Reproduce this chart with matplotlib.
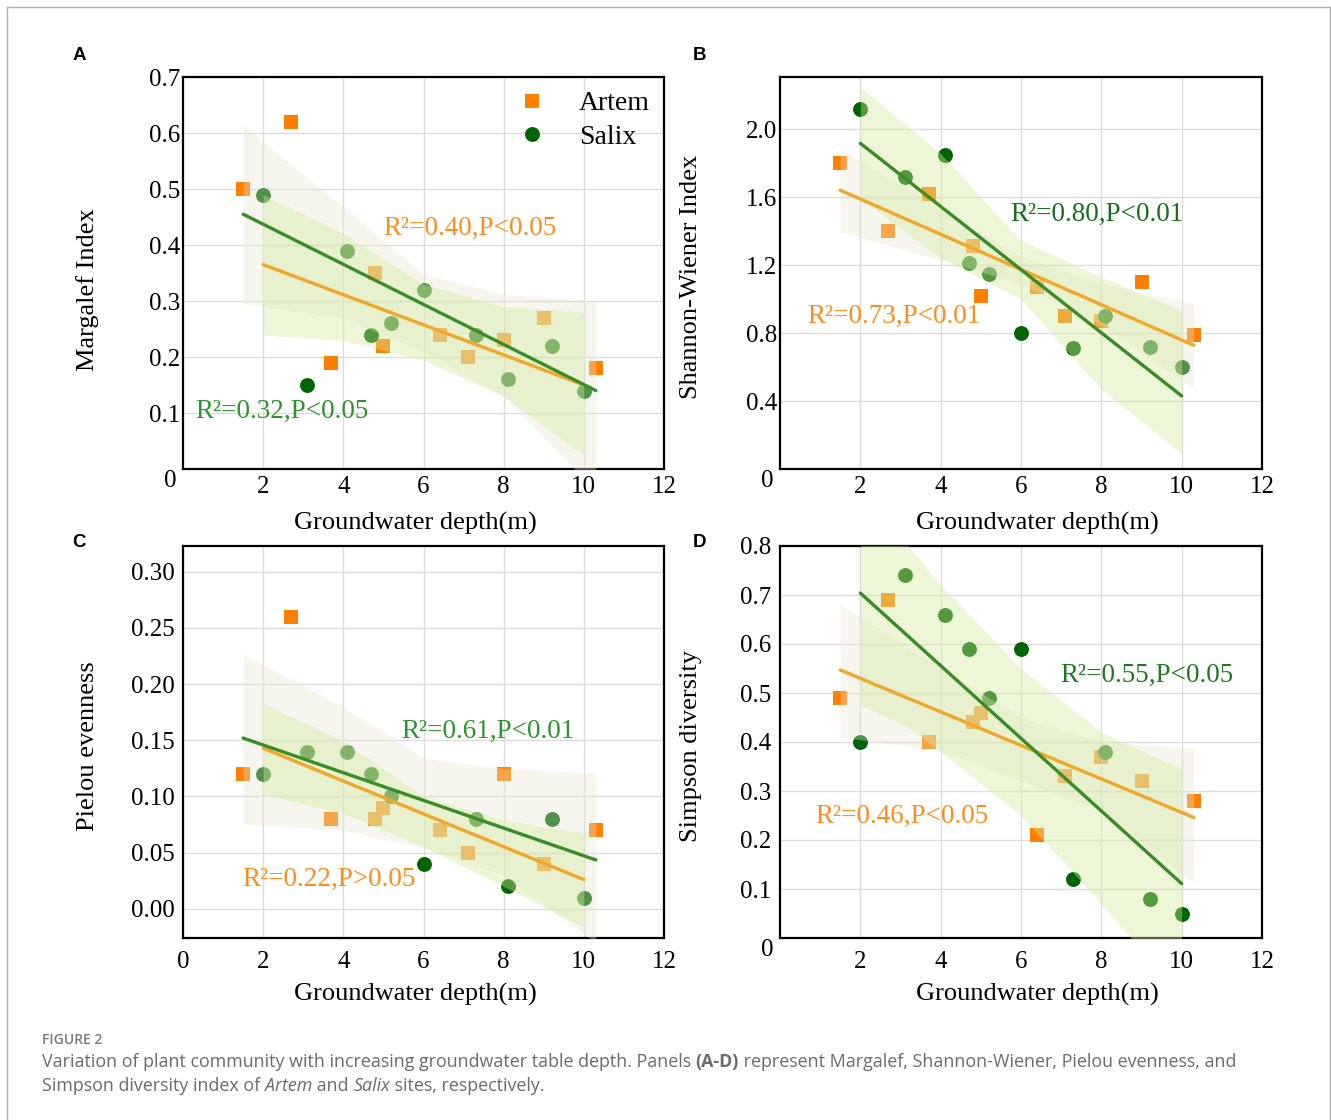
import matplotlib
matplotlib.use('Agg')
import matplotlib.pyplot as plt
from matplotlib.lines import Line2D

plt.rcParams['font.family'] = 'Liberation Serif'

# groundwater depth of the sampling sites (m)
depth_artem = [1.5, 2.7, 3.7, 4.8, 5.0, 6.4, 7.1, 8.0, 9.0, 10.3]
depth_salix = [2.0, 3.1, 4.1, 4.7, 5.2, 6.0, 7.3, 8.1, 9.2, 10.0]

# diversity indices
margalef_artem = [0.50, 0.62, 0.19, 0.35, 0.22, 0.24, 0.20, 0.23, 0.27, 0.18]
margalef_salix = [0.49, 0.15, 0.39, 0.24, 0.26, 0.32, 0.24, 0.16, 0.22, 0.14]
shannon_artem = [1.80, 1.40, 1.62, 1.31, 1.02, 1.07, 0.90, 0.87, 1.10, 0.79]
shannon_salix = [2.12, 1.72, 1.85, 1.21, 1.15, 0.80, 0.71, 0.90, 0.72, 0.60]
pielou_artem = [0.12, 0.26, 0.08, 0.08, 0.09, 0.07, 0.05, 0.12, 0.04, 0.07]
pielou_salix = [0.12, 0.14, 0.14, 0.12, 0.10, 0.04, 0.08, 0.02, 0.08, 0.01]
simpson_artem = [0.49, 0.69, 0.40, 0.44, 0.46, 0.21, 0.33, 0.37, 0.32, 0.28]
simpson_salix = [0.40, 0.74, 0.66, 0.59, 0.49, 0.59, 0.12, 0.38, 0.08, 0.05]

# fitted lines (end points)
fit_green_x = [[1.5, 10.3], [2.0, 10.0], [1.5, 10.3], [2.0, 10.0]]
fit_green_y = [[0.455, 0.14], [1.916, 0.43], [0.152, 0.0435], [0.704, 0.111]]
fit_orange_x = [[2.0, 10.0], [1.5, 10.3], [2.0, 10.0], [1.5, 10.3]]
fit_orange_y = [[0.365, 0.15], [1.64, 0.728], [0.143, 0.026], [0.547, 0.246]]

# confidence bands
band_gray_x = [1.5, 4, 6, 8, 10.3]
band_gray_lo = [[0.295, 0.27, 0.21, 0.13, -0.04],
                [1.394, 1.23, 1.09, 0.85, 0.473],
                [0.075, 0.07, 0.054, 0.03, -0.03],
                [0.41, 0.383, 0.32, 0.26, 0.112]]
band_gray_up = [[0.614, 0.468, 0.348, 0.312, 0.30],
                [1.884, 1.53, 1.25, 1.09, 0.973],
                [0.2266, 0.18, 0.134, 0.125, 0.121],
                [0.681, 0.55, 0.45, 0.40, 0.387]]
band_green_x = [[2, 4, 6, 8, 10], [2, 4, 6, 8, 10], [2, 4, 6, 8, 10],
                [2, 3.2, 4, 6, 8, 10]]
band_green_lo = [[0.239, 0.23, 0.194, 0.13, 0.024],
                 [1.59, 1.24, 1.0, 0.47, 0.09],
                 [0.102, 0.085, 0.055, 0.02, -0.017],
                 [0.475, 0.43, 0.38, 0.25, 0.07, -0.12]]
band_green_up = [[0.49, 0.42, 0.33, 0.29, 0.28],
                 [2.247, 1.855, 1.345, 1.13, 0.93],
                 [0.183, 0.149, 0.10, 0.079, 0.0675],
                 [0.92, 0.80, 0.72, 0.55, 0.42, 0.345]]

panel_letters = ['A', 'B', 'C', 'D']
ylabels = ['Margalef Index', 'Shannon-Wiener Index', 'Pielou evenness', 'Simpson diversity']
yticks = [[0.1, 0.2, 0.3, 0.4, 0.5, 0.6, 0.7],
          [0.4, 0.8, 1.2, 1.6, 2.0],
          [0.00, 0.05, 0.10, 0.15, 0.20, 0.25, 0.30],
          [0.1, 0.2, 0.3, 0.4, 0.5, 0.6, 0.7, 0.8]]
ytick_fmt = ['{:.1f}', '{:.1f}', '{:.2f}', '{:.1f}']
ylims = [(0, 0.7), (0, 2.306), (-0.026, 0.323), (0, 0.8)]
green_notes = ['R²=0.32,P<0.05', 'R²=0.80,P<0.01', 'R²=0.61,P<0.01', 'R²=0.55,P<0.05']
green_note_xy = [(0.3, 0.102), (5.73, 1.50), (5.44, 0.158), (6.97, 0.535)]
orange_notes = ['R²=0.40,P<0.05', 'R²=0.73,P<0.01', 'R²=0.22,P>0.05', 'R²=0.46,P<0.05']
orange_note_xy = [(4.99, 0.430), (0.67, 0.90), (1.47, 0.026), (0.87, 0.249)]
green_note_col = ['#2a962a', '#17701a', '#2a962a', '#1f7a1f']

artem = [margalef_artem, shannon_artem, pielou_artem, simpson_artem]
salix = [margalef_salix, shannon_salix, pielou_salix, simpson_salix]

ORANGE = '#ff8000'
DKGREEN = '#006400'
W, H = 1331, 1120
fig = plt.figure(figsize=(W / 100, H / 100), dpi=100)

rects = [(183, 77, 664, 469), (780, 77, 1262, 469),
         (183, 546, 664, 938), (780, 546, 1262, 938)]

for i in range(4):
    l, t, r, b = rects[i]
    ax = fig.add_axes([l / W, 1 - b / H, (r - l) / W, (b - t) / H])
    ax.set_axisbelow(True)
    ax.grid(True, color='#dcdcdc', lw=1)

    ax.scatter(depth_artem, artem[i], marker='s', s=90, c=ORANGE, lw=0, zorder=2, label='Artem')
    ax.scatter(depth_salix, salix[i], marker='o', s=115, c=DKGREEN, lw=0, zorder=2, label='Salix')

    ax.fill_between(band_gray_x, band_gray_lo[i], band_gray_up[i], color='#e6e6d2', alpha=0.35, lw=0, zorder=3)
    ax.fill_between(band_green_x[i], band_green_lo[i], band_green_up[i], color='#d4eb9d', alpha=0.4, lw=0, zorder=3)

    ax.plot(fit_orange_x[i], fit_orange_y[i], color='#f2a62a', lw=2.4, zorder=4, solid_capstyle='round')
    ax.plot(fit_green_x[i], fit_green_y[i], color='#3a8c28', lw=2.4, zorder=4, solid_capstyle='round')

    ax.text(*green_note_xy[i], green_notes[i], color=green_note_col[i], fontsize=19.5,
            ha='left', va='center', zorder=5)
    ax.text(*orange_note_xy[i], orange_notes[i], color='#ff8c1a', fontsize=19.5,
            ha='left', va='center', zorder=5)

    ax.set_xlim(0, 12)
    ax.set_ylim(*ylims[i])
    ax.set_yticks(yticks[i])
    ax.set_yticklabels([ytick_fmt[i].format(v) for v in yticks[i]])
    if i == 2:
        ax.set_xticks([0, 2, 4, 6, 8, 10, 12])
    else:
        ax.set_xticks([2, 4, 6, 8, 10, 12])
        ax.annotate('0', xy=(0, 0), xycoords='axes fraction', xytext=(-13, -12),
                    textcoords='offset pixels', ha='center', va='center', fontsize=18)
    pad_x = 9 if i >= 2 else 5
    pad_y = 6 if i >= 2 else 2
    ax.tick_params(axis='x', length=0, pad=pad_x, labelsize=18)
    ax.tick_params(axis='y', length=0, pad=pad_y, labelsize=18)
    for sp in ax.spines.values():
        sp.set_linewidth(1.6)
        sp.set_color('black')

    ax.set_xlabel('Groundwater depth(m)', fontsize=19)
    ax.set_ylabel(ylabels[i], fontsize=19)
    ax.xaxis.set_label_coords(0.484 if i % 2 == 0 else 0.535, -0.11 if i < 2 else -0.115)
    ax.yaxis.set_label_coords(-0.175 if i % 2 == 0 else -0.162, 0.457 if i == 0 else 0.49)

    fig.text((79 if i % 2 == 0 else 699) / W, 1 - (55 if i < 2 else 542) / H, panel_letters[i],
             fontsize=13.5, fontweight='bold', family='Liberation Sans', ha='center', va='center')

    if i == 0:
        ax.legend(loc='upper right', frameon=False, fontsize=20, handlelength=1.0,
                  handletextpad=1.2, labelspacing=0.3, borderaxespad=0.1, scatteryoffsets=[0.5])

# light frame around the figure
fig.add_artist(Line2D([7 / W, 7 / W], [0, 1 - 7 / H], color='#b0b0b0', lw=1))
fig.add_artist(Line2D([7 / W, 1330 / W], [1 - 7 / H, 1 - 7 / H], color='#b0b0b0', lw=1))
fig.add_artist(Line2D([1330 / W, 1330 / W], [0, 1 - 7 / H], color='#b0b0b0', lw=1))

# caption
cap = dict(family='Open Sans', color='#6b6b6b', fontsize=12.9, va='center', ha='left')
fig.text(42 / W, 1 - 1040 / H, 'FIGURE 2', family='Open Sans', color='#7a7a7a', fontsize=10,
         fontweight='semibold', va='center', ha='left')
renderer = fig.canvas.get_renderer()


def caption_line(y, parts):
    x = 42 / W
    for s, style in parts:
        t = fig.text(x, 1 - y / H, s, **cap, **style)
        x += t.get_window_extent(renderer).width / W


caption_line(1062, [('Variation of plant community with increasing groundwater table depth. Panels ', {}),
                    ('(A-D)', {'fontweight': 'bold'}),
                    (' represent Margalef, Shannon-Wiener, Pielou evenness, and', {})])
caption_line(1086, [('Simpson diversity index of ', {}), ('Artem', {'style': 'italic'}),
                    (' and ', {}), ('Salix', {'style': 'italic'}),
                    (' sites, respectively.', {})])

fig.savefig('out.png', dpi=100)
